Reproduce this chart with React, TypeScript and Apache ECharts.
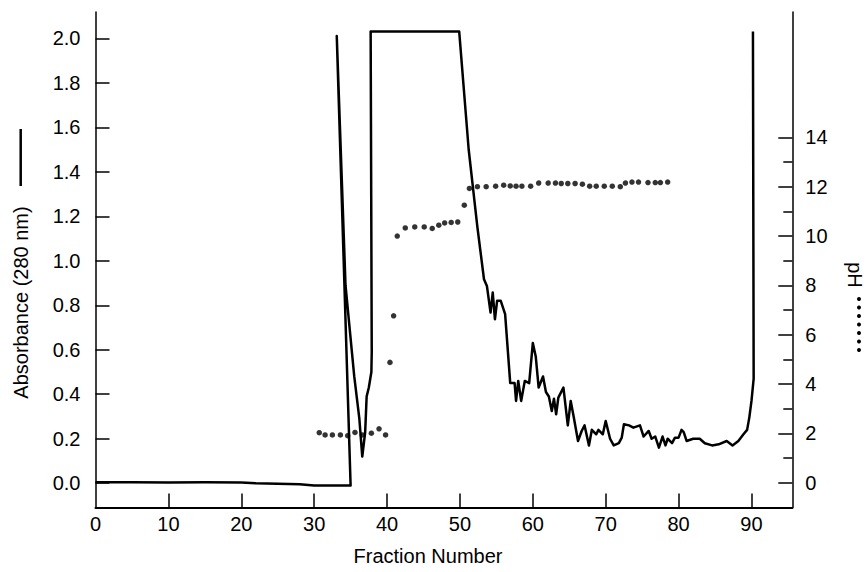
import React, { useEffect, useRef } from "react";
import * as echarts from "echarts";

// Absorbance (280 nm) trace: [fraction, absorbance] in drawing order
const absorbance: [number, number][] = [
  [0, 0.004], [5, 0.004], [10, 0.003], [15, 0.004], [20, 0.003], [22, 0.0], [25, -0.002],
  [28, -0.005], [30, -0.01], [35.0, -0.01],
  [33.1, 2.01], [34.3, 0.89], [35.5, 0.48], [36.2, 0.29], [36.6, 0.12], [37.0, 0.23],
  [37.2, 0.39], [37.5, 0.43], [37.85, 0.5], [37.9, 0.59], [37.75, 2.03],
  [49.9, 2.03], [51.2, 1.5], [52.4, 1.15], [53.3, 0.917], [53.7, 0.887],
  [54.2, 0.767], [54.5, 0.857], [54.8, 0.737], [55.1, 0.82], [55.6, 0.82], [56.2, 0.76],
  [56.9, 0.45], [57.5, 0.45], [57.7, 0.37], [58.0, 0.46], [58.4, 0.37], [58.9, 0.46],
  [59.5, 0.45], [60.0, 0.63], [60.4, 0.57], [60.8, 0.43], [61.4, 0.48], [61.8, 0.41],
  [62.2, 0.39], [62.6, 0.325], [62.9, 0.38], [63.2, 0.31], [63.5, 0.385], [64.2, 0.43],
  [64.8, 0.26], [65.2, 0.37], [65.6, 0.3], [66.2, 0.19], [66.7, 0.235], [67.1, 0.26],
  [67.7, 0.17], [68.1, 0.24], [68.7, 0.22], [69.0, 0.24], [69.6, 0.22], [70.0, 0.28],
  [70.6, 0.2], [71.1, 0.17], [71.8, 0.18], [72.2, 0.205], [72.5, 0.265], [73.2, 0.26],
  [73.8, 0.25], [74.7, 0.26], [75.2, 0.21], [75.9, 0.235], [76.3, 0.2], [76.8, 0.21],
  [77.3, 0.16], [77.8, 0.21], [78.2, 0.17], [78.5, 0.2], [79.1, 0.18], [79.5, 0.205],
  [80.0, 0.205], [80.4, 0.24], [80.7, 0.23], [81.1, 0.19], [82.0, 0.2], [82.9, 0.2],
  [83.6, 0.18], [84.6, 0.17], [85.5, 0.175], [86.6, 0.19], [87.4, 0.17], [88.2, 0.19],
  [88.9, 0.22], [89.4, 0.24], [89.7, 0.295], [90.0, 0.37], [90.3, 0.47], [90.2, 2.03],
];

// pH readings: [fraction, pH]
const ph: [number, number][] = [
  [30.7, 2.03], [31.5, 1.94], [32.5, 1.94], [33.6, 1.94], [34.6, 1.91], [35.6, 2.04],
  [36.6, 1.94], [37.85, 2.01], [38.9, 2.19], [39.8, 1.94], [40.4, 4.88], [40.9, 6.77],
  [41.4, 10.0], [42.5, 10.33], [43.8, 10.37], [45.1, 10.37], [46.2, 10.31], [47.1, 10.44],
  [47.9, 10.53], [48.8, 10.55], [49.7, 10.57], [50.6, 11.25], [51.3, 11.93], [52.4, 12.0],
  [53.6, 12.0], [54.9, 12.02], [56.0, 12.06], [56.9, 12.03], [57.7, 12.02], [58.5, 12.02],
  [59.7, 12.02], [60.8, 12.15], [62.1, 12.15], [63.1, 12.15], [63.9, 12.13], [64.8, 12.13],
  [65.8, 12.13], [66.8, 12.1], [67.8, 12.02], [68.7, 12.02], [69.8, 12.02], [70.9, 12.02],
  [72.0, 12.0], [72.7, 12.15], [73.6, 12.19], [74.5, 12.19], [75.8, 12.17], [76.8, 12.17],
  [77.5, 12.17], [78.5, 12.19],
];

const xTicks = [10, 20, 30, 40, 50, 60, 70, 80, 90];
const xLabels = [0, 10, 20, 30, 40, 50, 60, 70, 80, 90];
const absTicks = [0, 0.2, 0.4, 0.6, 0.8, 1.0, 1.2, 1.4, 1.6, 1.8, 2.0];
const phMajor = [0, 2, 4, 6, 8, 10, 12, 14];
const phMinor = [1, 3, 5, 7, 9, 11, 13];

const FONT = "'Liberation Sans', Arial, Helvetica, sans-serif";
const FS = 20;

export default function App() {
  const ref = useRef<HTMLDivElement>(null);
  useEffect(() => {
    if (!ref.current) return;
    const chart = echarts.init(ref.current, undefined, { renderer: "svg" });
    const tickStyle = { color: "#000", width: 1.5 };
    const labelStyle = { color: "#000", fontSize: FS, fontFamily: FONT };
    const gridBox = { left: 95.5, right: 73.7, top: 12, bottom: 64.5, containLabel: false, outerBoundsMode: "none" };
    const dots = [0, 1, 2, 3, 4, 5, 6].map((i) => ({
      type: "circle",
      shape: { cx: 859, cy: 299 + i * 8.5, r: 2 },
      style: { fill: "#000" },
    }));
    chart.setOption({
      animation: false,
      backgroundColor: "#fff",
      grid: [gridBox, { ...gridBox }],
      xAxis: [
        {
          type: "value",
          gridIndex: 0,
          min: 0,
          max: 95.6,
          splitLine: { show: false },
          axisLine: { show: true, onZero: false, lineStyle: { color: "#000", width: 2 } },
          axisTick: { show: true, inside: true, length: 14, lineStyle: tickStyle, customValues: xTicks },
          axisLabel: { ...labelStyle, margin: 6, customValues: xLabels, formatter: (v: number) => String(v) },
        },
        {
          type: "value",
          gridIndex: 1,
          min: 0,
          max: 95.6,
          show: false,
        },
      ],
      yAxis: [
        {
          type: "value",
          gridIndex: 0,
          position: "left",
          min: -0.109,
          max: 2.118,
          splitLine: { show: false },
          axisLine: { show: true, onZero: false, lineStyle: { color: "#000", width: 1.5 } },
          axisTick: { show: true, inside: true, length: 14, lineStyle: tickStyle, customValues: absTicks },
          axisLabel: { ...labelStyle, margin: 15, customValues: absTicks, formatter: (v: number) => v.toFixed(1) },
        },
        {
          type: "value",
          gridIndex: 0,
          position: "right",
          min: -1,
          max: 19.08,
          splitLine: { show: false },
          axisLine: { show: true, onZero: false, lineStyle: { color: "#000", width: 1.5 } },
          axisTick: { show: true, inside: true, length: 14, lineStyle: tickStyle, customValues: phMajor },
          axisLabel: { ...labelStyle, margin: 13, customValues: phMajor, formatter: (v: number) => String(v) },
        },
        {
          type: "value",
          gridIndex: 1,
          position: "right",
          min: -1,
          max: 19.08,
          splitLine: { show: false },
          axisLine: { show: false, onZero: false },
          axisTick: { show: true, inside: true, length: 9, lineStyle: tickStyle, customValues: phMinor },
          axisLabel: { show: false },
        },
      ],
      series: [
        {
          type: "line",
          data: absorbance,
          xAxisIndex: 0,
          yAxisIndex: 0,
          showSymbol: false,
          lineStyle: { color: "#000", width: 2.5, join: "round" },
          silent: true,
        },
        {
          type: "scatter",
          data: ph,
          xAxisIndex: 0,
          yAxisIndex: 1,
          symbol: "circle",
          symbolSize: 5.5,
          itemStyle: { color: "#000" },
          silent: true,
        },
      ],
      graphic: [
        {
          type: "text",
          x: 20.5,
          y: 302.5,
          rotation: Math.PI / 2,
          style: { text: "Absorbance (280 nm)", fill: "#000", font: `${FS}px ${FONT}`, align: "center", verticalAlign: "middle" },
        },
        { type: "line", shape: { x1: 20.7, y1: 129, x2: 20.7, y2: 186 }, style: { stroke: "#000", lineWidth: 2.5 } },
        {
          type: "text",
          x: 855,
          y: 275,
          rotation: -Math.PI / 2,
          style: { text: "pH", fill: "#000", font: `${FS}px ${FONT}`, align: "center", verticalAlign: "middle" },
        },
        ...dots,
        {
          type: "text",
          x: 428,
          y: 556,
          style: { text: "Fraction Number", fill: "#000", font: `${FS}px ${FONT}`, align: "center", verticalAlign: "middle" },
        },
      ],
    });
    return () => chart.dispose();
  }, []);
  return <div ref={ref} style={{ position: "fixed", left: 0, top: 0, width: 866, height: 572 }} />;
}
